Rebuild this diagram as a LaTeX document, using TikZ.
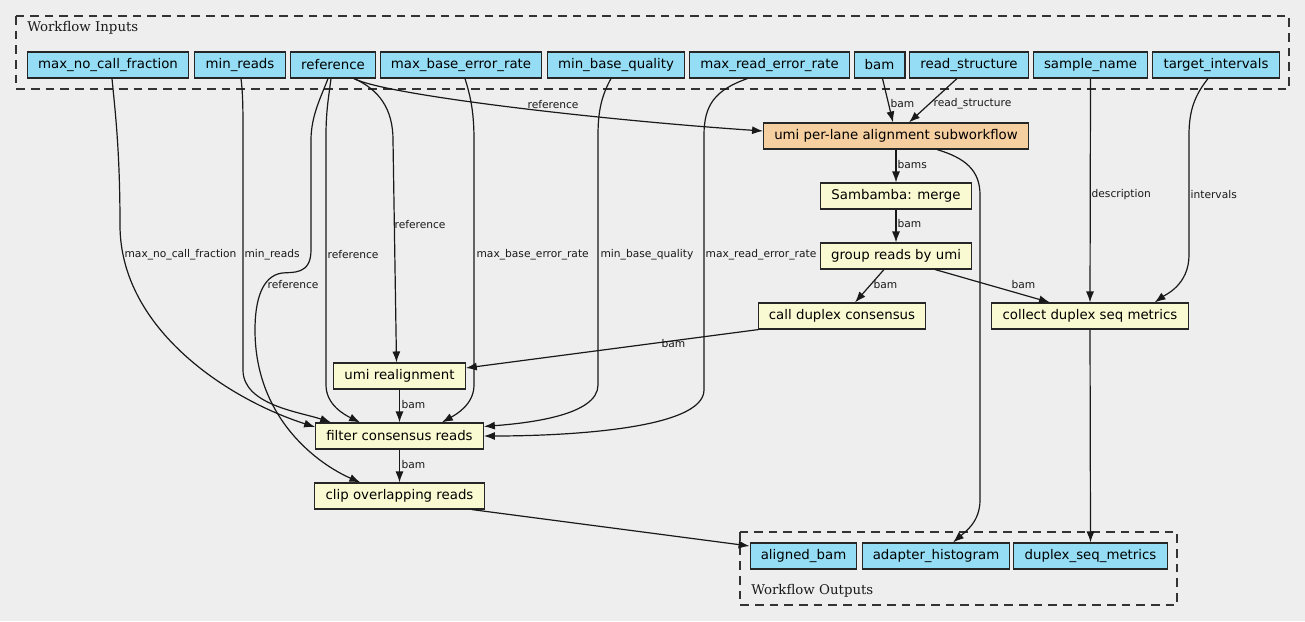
\documentclass[tikz,border=0pt]{standalone}
\usepackage{fontspec}
\usepackage{xcolor}
\usetikzlibrary{positioning,calc,arrows.meta}
\newfontfamily\dvsans{DejaVu Sans}
\newfontfamily\dvserif{DejaVu Serif}
\definecolor{bggrey}{RGB}{238,238,238}
\definecolor{ioblue}{RGB}{148,221,244}
\definecolor{taskyellow}{RGB}{250,250,210}
\definecolor{suborange}{RGB}{245,207,160}
\tikzset{
every node/.style={font=\dvsans\fontsize{10}{12}\selectfont},
iobox/.style={draw=black!85, line width=0.8pt, fill=ioblue, minimum height=19.5pt, inner xsep=8pt, inner ysep=0pt},
taskbox/.style={iobox, fill=taskyellow},
subbox/.style={iobox, fill=suborange},
elabel/.style={font=\dvsans\fontsize{8}{9}\selectfont, anchor=west, inner sep=0pt, text=black!90},
grouplabel/.style={font=\dvserif\fontsize{10}{12}\selectfont, anchor=west, inner sep=0pt, text=black!90},
cluster/.style={draw=black!80, dash pattern=on 6.5pt off 4.5pt, line width=0.8pt},
flow/.style={-{Latex[length=8.25pt,width=6pt]}, line width=0.9pt, draw=black!90}}

\begin{document}
\begin{tikzpicture}[x=0.75pt, y=-0.75pt]
        \fill[bggrey] (0,0) rectangle (1305,621);
        \useasboundingbox (0,0) rectangle (1305,621);
        % inputs
        \draw[cluster] (16,16) rectangle (1289,89);
        \node[grouplabel] (inlabel) at (27,27.5) {Workflow Inputs};
        \node[iobox] (mncf) at (108,65) {max\_no\_call\_fraction};
        \node[iobox] (minreads) at (240,65) {min\_reads};
        \node[iobox] (ref) at (333,65) {reference};
        \node[iobox] (mber) at (461,65) {max\_base\_error\_rate};
        \node[iobox] (mbq) at (616,65) {min\_base\_quality};
        \node[iobox] (mrer) at (769.5,65) {max\_read\_error\_rate};
        \node[iobox] (bam) at (879.5,65) {bam};
        \node[iobox] (rstruct) at (969,65) {read\_structure};
        \node[iobox] (sname) at (1090.5,65) {sample\_name};
        \node[iobox] (tint) at (1216,65) {target\_intervals};
        % steps
        \node[subbox] (umialign) at (896,136) {umi per-lane alignment subworkflow};
        \node[taskbox] (merge) at (896,196) {Sambamba: merge};
        \node[taskbox] (group) at (896,256) {group reads by umi};
        \node[taskbox] (duplex) at (842,316) {call duplex consensus};
        \node[taskbox] (collect) at (1090,316) {collect duplex seq metrics};
        \node[taskbox] (realign) at (399.5,376) {umi realignment};
        \node[taskbox] (filter) at (399.5,436) {filter consensus reads};
        \node[taskbox] (clip) at (399.5,496) {clip overlapping reads};
        % outputs
        \draw[cluster] (740,532) rectangle (1177,605);
        \node[grouplabel] (outlabel) at (751,591) {Workflow Outputs};
        \node[iobox] (abam) at (803.5,556) {aligned\_bam};
        \node[iobox] (ahist) at (936,556) {adapter\_histogram};
        \node[iobox] (dsm) at (1090.5,556) {duplex\_seq\_metrics};
        % edges from the inputs
        \draw[flow] ($(mncf.south)+(4,0)$) .. controls (115,110) and (120,150) .. (120,225)
            .. controls (120,330) and (230,400) .. ($(filter.west)+(0,-9)$)
            node[elabel] (lmncf) at (124,255) {max\_no\_call\_fraction};
        \draw[flow] ($(minreads.south)+(1,0)$) .. controls (243,95) and (243,110) .. (243,140) -- (243,370)
            .. controls (243,405) and (300,412) .. ($(filter.north west)+(16,0)$)
            node[elabel] (lminreads) at (244,255) {min\_reads};
        \draw[flow] ($(ref.south)+(-5,0)$) .. controls (322,95) and (311,115) .. (311,140) -- (311,250)
            .. controls (311,275) and (293,272) .. (282,273) .. controls (262,276) and (255,300) .. (255,330)
            .. controls (255,420) and (320,465) .. ($(clip.north west)+(46,0)$)
            node[elabel] (lrefclip) at (267,285) {reference};
        \draw[flow] ($(ref.south)+(-2,0)$) .. controls (329,95) and (326,110) .. (326,135) -- (326,385)
            .. controls (326,405) and (345,415) .. ($(filter.north west)+(45,0)$)
            node[elabel] (lreffilter) at (327,255) {reference};
        \draw[flow] ($(ref.south)+(21,0)$) .. controls (380,90) and (393,110) .. (393,140)
            -- ($(realign.north)+(-3,0)$)
            node[elabel] (lrefrealign) at (394,225) {reference};
        \draw[flow] ($(ref.south)+(21,0)$) .. controls (385,95) and (600,120) .. ($(umialign.west)+(0,-5)$)
            node[elabel] (lrefalign) at (527,105) {reference};
        \draw[flow] ($(mber.south)+(4,0)$) .. controls (470,95) and (474,110) .. (474,140) -- (474,385)
            .. controls (474,405) and (455,415) .. ($(filter.north east)+(-42,0)$)
            node[elabel] (lmber) at (476,255) {max\_base\_error\_rate};
        \draw[flow] ($(mbq.south)+(-5,0)$) .. controls (602,95) and (598,110) .. (598,135) -- (598,385)
            .. controls (598,415) and (530,423) .. ($(filter.north east)+(0,4)$)
            node[elabel] (lmbq) at (600,255) {min\_base\_quality};
        \draw[flow] ($(mrer.south)+(-22,0)$) .. controls (715,90) and (704,105) .. (704,135) -- (704,390)
            .. controls (704,430) and (560,436) .. (filter.east)
            node[elabel] (lmrer) at (705,255) {max\_read\_error\_rate};
        \draw[flow] ($(bam.south)+(3,0)$) -- ($(umialign.north)+(-3,0)$)
            node[elabel] (lbam) at (890,104) {bam};
        \draw[flow] ($(rstruct.south)+(-12,0)$) -- ($(umialign.north)+(13,0)$)
            node[elabel] (lrstruct) at (933,104) {read\_structure};
        \draw[flow] (sname.south) -- (collect.north)
            node[elabel] (lsname) at (1091,195) {description};
        \draw[flow] ($(tint.south)+(-8,0)$) .. controls (1195,95) and (1189,110) .. (1189,135) -- (1189,255)
            .. controls (1189,285) and (1165,295) .. ($(collect.north east)+(-34,0)$)
            node[elabel] (ltint) at (1190,195) {intervals};
        % edges between the steps
        \draw[flow] (umialign.south) -- (merge.north) node[elabel] (lbams) at (897,165) {bams};
        \draw[flow] ($(umialign.south)+(41,0)$) .. controls (965,158) and (980,170) .. (980,195) -- (980,500)
            .. controls (980,522) and (965,532) .. ($(ahist.north)+(17,0)$);
        \draw[flow] (merge.south) -- (group.north) node[elabel] (lmerge) at (897,224) {bam};
        \draw[flow] ($(group.south)+(-12,0)$) -- ($(duplex.north)+(13,0)$)
            node[elabel] (lgroup) at (873,285) {bam};
        \draw[flow] ($(group.south)+(39,0)$) -- ($(collect.north)+(-40,0)$)
            node[elabel] (lgroupcol) at (1011,285) {bam};
        \draw[flow] ($(duplex.south west)+(1,0)$) -- ($(realign.east)+(0,-8)$)
            node[elabel] (lduplex) at (661,344) {bam};
        \draw[flow] (realign.south) -- (filter.north) node[elabel] (lrealign) at (401,405) {bam};
        \draw[flow] (filter.south) -- (clip.north) node[elabel] (lfilter) at (401,465) {bam};
        \draw[flow] ($(clip.south east)+(-13,0)$) -- ($(abam.west)+(0,-10)$);
        \draw[flow] (collect.south) -- (dsm.north);
\end{tikzpicture}
\end{document}
